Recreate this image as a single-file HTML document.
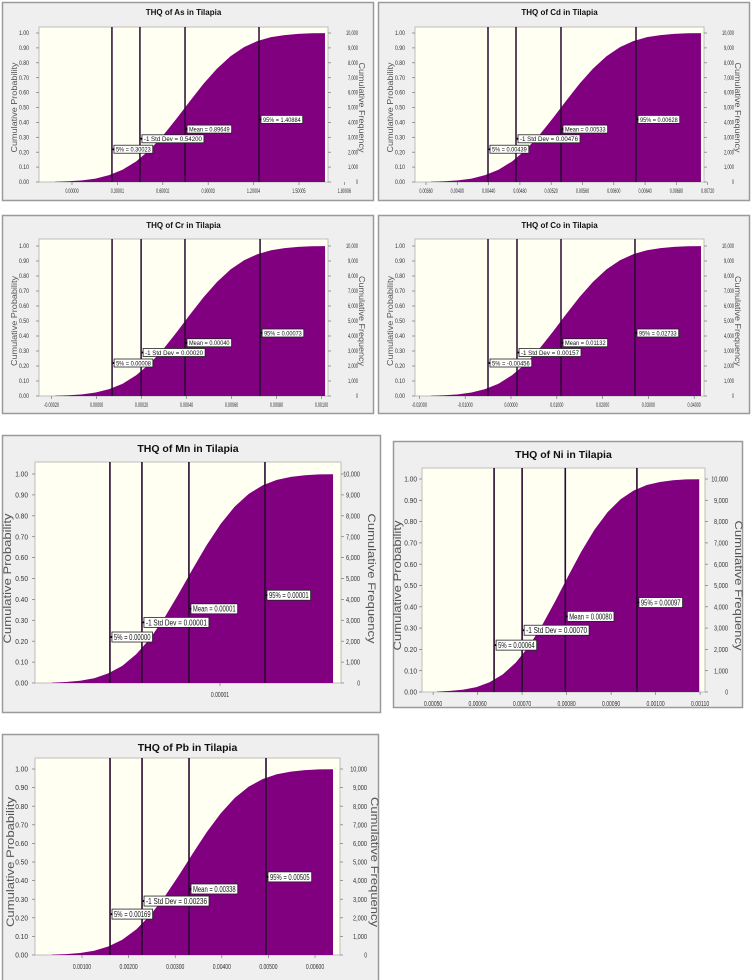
<!DOCTYPE html>
<html><head><meta charset="utf-8">
<style>
html,body{margin:0;padding:0;background:#fff;}
body{width:752px;height:980px;overflow:hidden;position:relative;font-family:"Liberation Sans",sans-serif;}
svg{position:absolute;left:0;top:0;}
</style></head>
<body>
<svg id="chart" width="752" height="980" viewBox="0 0 752 980" xmlns="http://www.w3.org/2000/svg"></svg>
<script>
// Shared cumulative probability curve shape (21 evenly spaced samples)
const cdfProbs = [0.002,0.005,0.011,0.023,0.046,0.082,0.138,0.215,0.312,0.425,0.544,0.659,0.761,0.844,0.905,0.946,0.972,0.986,0.994,0.998,0.999];
const probTicks = [0,0.1,0.2,0.3,0.4,0.5,0.6,0.7,0.8,0.9,1.0];
const freqTickLabels = ["0","1,000","2,000","3,000","4,000","5,000","6,000","7,000","8,000","9,000","10,000"];
const markerProbs = [0.22,0.29,0.355,0.42];

// As
const asDomain = [-0.2181, 1.6920];
const asTicks = [0, 0.30001, 0.60002, 0.90003, 1.20004, 1.50005, 1.80006];
const asTickLabels = ["0.00000","0.30001","0.60002","0.90003","1.20004","1.50005","1.80006"];
const asMarkers = [0.264, 0.449, 0.747, 1.236];
const asMarkerLabels = ["5% = 0.30023","-1 Std Dev = 0.54200","Mean = 0.89649","95% = 1.40884"];
const asCurve = [-0.112, 1.672];
// Cd
const cdDomain = [0.003459, 0.007153];
const cdTicks = [0.0036,0.0040,0.0044,0.0048,0.0052,0.0056,0.0060,0.0064,0.0068,0.0072];
const cdTickLabels = ["0.00360","0.00400","0.00440","0.00480","0.00520","0.00560","0.00600","0.00640","0.00680","0.00720"];
const cdMarkers = [0.004392, 0.004750, 0.005325, 0.006284];
const cdMarkerLabels = ["5% = 0.00439","-1 Std Dev = 0.00476","Mean = 0.00533","95% = 0.00628"];
const cdCurve = [0.003664, 0.007114];
// Cr
const crDomain = [-0.000256, 0.001029];
const crTicks = [-0.0002,0,0.0002,0.0004,0.0006,0.0008,0.0010];
const crTickLabels = ["-0.00020","0.00000","0.00020","0.00040","0.00060","0.00080","0.00100"];
const crMarkers = [0.0000689, 0.000198, 0.000393, 0.000727];
const crMarkerLabels = ["5% = 0.00008","-1 Std Dev = 0.00020","Mean = 0.00040","95% = 0.00073"];
const crCurve = [-0.000184, 0.001016];
// Co
const coDomain = [-0.02096, 0.04214];
const coTicks = [-0.02,-0.01,0,0.01,0.02,0.03,0.04];
const coTickLabels = ["-0.02000","-0.01000","0.00000","0.01000","0.02000","0.03000","0.04000"];
const coMarkers = [-0.00502, 0.00131, 0.01092, 0.02707];
const coMarkerLabels = ["5% = -0.00456","-1 Std Dev = 0.00157","Mean = 0.01132","95% = 0.02733"];
const coCurve = [-0.01747, 0.04148];
// Mn
const mnDomain = [0, 0.00001654];
const mnTicks = [0.00001];
const mnTickLabels = ["0.00001"];
const mnMarkers = [0.00000405, 0.00000578, 0.00000832, 0.00001243];
const mnMarkerLabels = ["5% = 0.00000","-1 Std Dev = 0.00001","Mean = 0.00001","95% = 0.00001"];
const mnCurve = [0.00000092, 0.00001611];
// Ni
const niDomain = [0.000475, 0.001111];
const niTicks = [0.0005,0.0006,0.0007,0.0008,0.0009,0.0010,0.0011];
const niTickLabels = ["0.00050","0.00060","0.00070","0.00080","0.00090","0.00100","0.00110"];
const niMarkers = [0.000637, 0.000700, 0.000797, 0.000958];
const niMarkerLabels = ["5% = 0.00064","-1 Std Dev = 0.00070","Mean = 0.00080","95% = 0.00097"];
const niCurve = [0.000509, 0.001098];
// Pb
const pbDomain = [-0.000009, 0.006536];
const pbTicks = [0.001,0.002,0.003,0.004,0.005,0.006];
const pbTickLabels = ["0.00100","0.00200","0.00300","0.00400","0.00500","0.00600"];
const pbMarkers = [0.001601, 0.002288, 0.003296, 0.004948];
const pbMarkerLabels = ["5% = 0.00169","-1 Std Dev = 0.00236","Mean = 0.00338","95% = 0.00505"];
const pbCurve = [0.000356, 0.006386];

const NS = "http://www.w3.org/2000/svg";
const svg = document.getElementById("chart");
function mk(tag, attrs, parent){
  const e = document.createElementNS(NS, tag);
  for (const k in attrs) e.setAttribute(k, attrs[k]);
  (parent||svg).appendChild(e);
  return e;
}

function drawPanel(id, title, layout, domain, ticks, tickLabels, markers, markerLabels, curve){
  const big = layout.big;
  const g = mk("g", {});
  
  
  const [fx, fy, fw, fh] = layout.frame;
  const fr = mk("rect", {x:fx+0.5, y:fy+0.5, width:fw, height:fh, fill:"#efefef", stroke:"#9a9a9a", "stroke-width":1.5}, g);
  
  
  const L = layout.L, R = layout.R, T = layout.T, y1 = layout.y1, y0 = layout.y0;
  const xs = v => L + (v - domain[0]) / (domain[1] - domain[0]) * (R - L);
  const ys = p => y0 - p * (y0 - y1);
  const pa = mk("rect", {x:L, y:T, width:R-L, height:y0-T, fill:"#fffff2", stroke:"#b0b0b0", "stroke-width":0.8}, g);
  
  
  const tfs = big ? 10.5 : 8;
  const t = mk("text", {x:(L+R)/2, y: big ? fy+17 : fy+13, "text-anchor":"middle", "font-size":tfs, "font-weight":"bold", fill:"#111"}, g);
  t.textContent = title;
  
  
  // curve
  let d = "M" + xs(curve[0]).toFixed(2) + "," + y0;
  const n = cdfProbs.length;
  for (let k = 0; k < n; k++){
    const v = curve[0] + (curve[1]-curve[0]) * k/(n-1);
    d += " L" + xs(v).toFixed(2) + "," + ys(cdfProbs[k]).toFixed(2);
  }
  d += " L" + xs(curve[1]).toFixed(2) + "," + ys(1).toFixed(2) + " L" + xs(curve[1]).toFixed(2) + "," + y0 + " Z";
  const area = mk("path", {d:d, fill:"#800080"}, g);
  
  
  // ticks
  const afs = big ? 7.5 : 6;
  const lcw = big ? 3.2 : 2.5, rcw = big ? 2.8 : 2.0, xcw = big ? 2.6 : 1.9;
  probTicks.forEach((p, i) => {
    const y = ys(p);
    mk("line", {x1:L-3, x2:L, y1:y, y2:y, stroke:"#777", "stroke-width":0.7}, g);
    mk("line", {x1:R, x2:R+3, y1:y, y2:y, stroke:"#777", "stroke-width":0.7}, g);
    const s = p.toFixed(2);
    const lt = mk("text", {x:L-layout.lLab - s.length*lcw, y:y+afs*0.35, "font-size":afs, fill:"#333", textLength:s.length*lcw, lengthAdjust:"spacingAndGlyphs"}, g);
    lt.textContent = s;
    
    
    const rs = freqTickLabels[i];
    const rt = mk("text", {x:R + layout.rLab - rs.length*rcw, y:y+afs*0.35, "font-size":afs, fill:"#333", textLength:rs.length*rcw, lengthAdjust:"spacingAndGlyphs"}, g);
    rt.textContent = rs;
    
    
  });
  ticks.forEach((v, i) => {
    const x = xs(v);
    mk("line", {x1:x, x2:x, y1:y0, y2:y0+3, stroke:"#777", "stroke-width":0.7}, g);
    const s = tickLabels[i];
    const w = s.length*xcw;
    const xt = mk("text", {x:x - w/2, y:y0 + (big?14:11), "font-size":afs, fill:"#333", textLength:w, lengthAdjust:"spacingAndGlyphs"}, g);
    xt.textContent = s;
    
    
  });
  // axis titles
  const atf = big ? 11 : 8.5;
  const tl = big ? 130 : 90;
  const lx = L - layout.lTitle, my = (y1 + y0)/2;
  const la = mk("text", {x:lx, y:my, transform:`rotate(-90 ${lx} ${my})`, "text-anchor":"middle", "font-size":atf, fill:"#555", textLength:tl, lengthAdjust:"spacingAndGlyphs"}, g);
  la.textContent = "Cumulative Probability";
  
  
  const rx = R + layout.rTitle;
  const ra = mk("text", {x:rx, y:my, transform:`rotate(90 ${rx} ${my})`, "text-anchor":"middle", "font-size":atf, fill:"#555", textLength:tl, lengthAdjust:"spacingAndGlyphs"}, g);
  ra.textContent = "Cumulative Frequency";
  
  
  // marker lines first
  markers.forEach((v) => {
    const x = xs(v);
    const ml = mk("line", {x1:x, x2:x, y1:T, y2:y0, stroke:"#2a0a30", "stroke-width":big?1.6:1.5}, g);
    
    
  });
  // labels on top
  const bh = big ? 10 : 8, lfs = big ? 8 : 6.5, cw = big ? 3.05 : 2.9;
  markers.forEach((v, i) => {
    const x = xs(v);
    const y = ys(markerProbs[i]);
    const w = markerLabels[i].length * cw + 4;
    const box = mk("rect", {x:x+2, y:y-bh/2, width:w, height:bh, fill:"#fff", stroke:"#222", "stroke-width":0.8}, g);
    
    
    mk("circle", {cx:x+1.5, cy:y, r:1, fill:"#000"}, g);
    const tx = mk("text", {x:x+4, y:y+lfs*0.36, "font-size":lfs, fill:"#111", textLength:w-4, lengthAdjust:"spacingAndGlyphs"}, g);
    tx.textContent = markerLabels[i];
    
    
  });
}

const smallA = {lLab:10, rLab:30, lTitle:22, rTitle:31};
drawPanel("as", "THQ of As in Tilapia", Object.assign({frame:[2,2,371,198], L:39, R:328, T:27, y1:33, y0:182, big:false}, smallA), asDomain, asTicks, asTickLabels, asMarkers, asMarkerLabels, asCurve);
drawPanel("cd", "THQ of Cd in Tilapia", Object.assign({frame:[378,2,371,198], L:415, R:704, T:27, y1:33, y0:182, big:false}, smallA), cdDomain, cdTicks, cdTickLabels, cdMarkers, cdMarkerLabels, cdCurve);
drawPanel("cr", "THQ of Cr in Tilapia", Object.assign({frame:[2,215,371,198], L:39, R:328, T:239, y1:246, y0:396, big:false}, smallA), crDomain, crTicks, crTickLabels, crMarkers, crMarkerLabels, crCurve);
drawPanel("co", "THQ of Co in Tilapia", Object.assign({frame:[378,215,371,198], L:415, R:704, T:239, y1:246, y0:396, big:false}, smallA), coDomain, coTicks, coTickLabels, coMarkers, coMarkerLabels, coCurve);
drawPanel("mn", "THQ of Mn in Tilapia", {frame:[2,435,378,277], L:35, R:341, T:462, y1:474, y0:683, big:true, lLab:7, rLab:19, lTitle:24, rTitle:27}, mnDomain, mnTicks, mnTickLabels, mnMarkers, mnMarkerLabels, mnCurve);
drawPanel("ni", "THQ of Ni in Tilapia", {frame:[393,441,349,266], L:422, R:705, T:468, y1:479, y0:692, big:true, lLab:5, rLab:23, lTitle:21, rTitle:30}, niDomain, niTicks, niTickLabels, niMarkers, niMarkerLabels, niCurve);
drawPanel("pb", "THQ of Pb in Tilapia", {frame:[2,734,376,250], L:35, R:340, T:758, y1:769, y0:955, big:true, lLab:7, rLab:27, lTitle:21, rTitle:31}, pbDomain, pbTicks, pbTickLabels, pbMarkers, pbMarkerLabels, pbCurve);
</script>
</body></html>
